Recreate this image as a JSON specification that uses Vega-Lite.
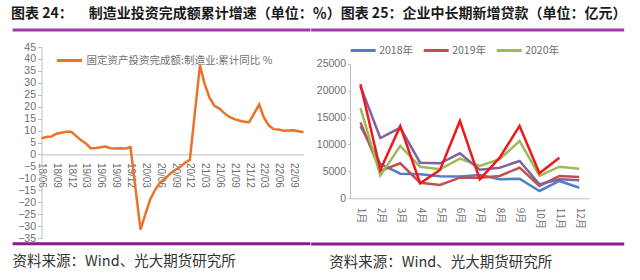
{
  "$schema": "https://vega.github.io/schema/vega-lite/v6.json",
  "background": "white",
  "padding": {"left": 10.5, "top": 6, "right": 4, "bottom": 4},
  "spacing": -3,
  "columns": 2,
  "align": "none",
  "title": {
    "text": "图表 24：\u00a0\u00a0\u00a0\u00a0\u00a0制造业投资完成额累计增速（单位：％）图表 25：企业中长期新增贷款（单位：亿元）",
    "anchor": "start",
    "fontSize": 14,
    "fontWeight": "bold",
    "color": "#1a1a1a",
    "offset": 7.5
  },
  "resolve": {
    "scale": {"color": "independent", "x": "independent", "y": "independent"},
    "legend": {"color": "independent"}
  },
  "concat": [
    {
      "width": 262,
      "height": 191,
      "title": {
        "text": "资料来源：Wind、光大期货研究所",
        "orient": "bottom",
        "anchor": "start",
        "frame": "bounds",
        "fontSize": 14.5,
        "fontWeight": "normal",
        "color": "#333333",
        "offset": 10,
        "dx": 1.5
      },
      "layer": [
        {
          "data": {
            "values": [
              {"date": "2018/06/01", "固定资产投资完成额:制造业:累计同比 %": 6.8},
              {"date": "2018/07/01", "固定资产投资完成额:制造业:累计同比 %": 7.3},
              {"date": "2018/08/01", "固定资产投资完成额:制造业:累计同比 %": 7.5},
              {"date": "2018/09/01", "固定资产投资完成额:制造业:累计同比 %": 8.7},
              {"date": "2018/10/01", "固定资产投资完成额:制造业:累计同比 %": 9.1},
              {"date": "2018/11/01", "固定资产投资完成额:制造业:累计同比 %": 9.5},
              {"date": "2018/12/01", "固定资产投资完成额:制造业:累计同比 %": 9.5},
              {"date": "2019/02/01", "固定资产投资完成额:制造业:累计同比 %": 5.9},
              {"date": "2019/03/01", "固定资产投资完成额:制造业:累计同比 %": 4.6},
              {"date": "2019/04/01", "固定资产投资完成额:制造业:累计同比 %": 2.5},
              {"date": "2019/05/01", "固定资产投资完成额:制造业:累计同比 %": 2.7},
              {"date": "2019/06/01", "固定资产投资完成额:制造业:累计同比 %": 3.0},
              {"date": "2019/07/01", "固定资产投资完成额:制造业:累计同比 %": 3.3},
              {"date": "2019/08/01", "固定资产投资完成额:制造业:累计同比 %": 2.6},
              {"date": "2019/09/01", "固定资产投资完成额:制造业:累计同比 %": 2.5},
              {"date": "2019/10/01", "固定资产投资完成额:制造业:累计同比 %": 2.6},
              {"date": "2019/11/01", "固定资产投资完成额:制造业:累计同比 %": 2.5},
              {"date": "2019/12/01", "固定资产投资完成额:制造业:累计同比 %": 3.1},
              {"date": "2020/02/01", "固定资产投资完成额:制造业:累计同比 %": -31.5},
              {"date": "2020/03/01", "固定资产投资完成额:制造业:累计同比 %": -25.2},
              {"date": "2020/04/01", "固定资产投资完成额:制造业:累计同比 %": -18.8},
              {"date": "2020/05/01", "固定资产投资完成额:制造业:累计同比 %": -14.8},
              {"date": "2020/06/01", "固定资产投资完成额:制造业:累计同比 %": -11.7},
              {"date": "2020/07/01", "固定资产投资完成额:制造业:累计同比 %": -10.2},
              {"date": "2020/08/01", "固定资产投资完成额:制造业:累计同比 %": -8.1},
              {"date": "2020/09/01", "固定资产投资完成额:制造业:累计同比 %": -6.5},
              {"date": "2020/10/01", "固定资产投资完成额:制造业:累计同比 %": -5.3},
              {"date": "2020/11/01", "固定资产投资完成额:制造业:累计同比 %": -3.5},
              {"date": "2020/12/01", "固定资产投资完成额:制造业:累计同比 %": -2.2},
              {"date": "2021/02/01", "固定资产投资完成额:制造业:累计同比 %": 37.3},
              {"date": "2021/03/01", "固定资产投资完成额:制造业:累计同比 %": 29.8},
              {"date": "2021/04/01", "固定资产投资完成额:制造业:累计同比 %": 23.8},
              {"date": "2021/05/01", "固定资产投资完成额:制造业:累计同比 %": 20.4},
              {"date": "2021/06/01", "固定资产投资完成额:制造业:累计同比 %": 19.2},
              {"date": "2021/07/01", "固定资产投资完成额:制造业:累计同比 %": 17.3},
              {"date": "2021/08/01", "固定资产投资完成额:制造业:累计同比 %": 15.7},
              {"date": "2021/09/01", "固定资产投资完成额:制造业:累计同比 %": 14.8},
              {"date": "2021/10/01", "固定资产投资完成额:制造业:累计同比 %": 14.2},
              {"date": "2021/11/01", "固定资产投资完成额:制造业:累计同比 %": 13.7},
              {"date": "2021/12/01", "固定资产投资完成额:制造业:累计同比 %": 13.5},
              {"date": "2022/02/01", "固定资产投资完成额:制造业:累计同比 %": 20.9},
              {"date": "2022/03/01", "固定资产投资完成额:制造业:累计同比 %": 15.6},
              {"date": "2022/04/01", "固定资产投资完成额:制造业:累计同比 %": 12.2},
              {"date": "2022/05/01", "固定资产投资完成额:制造业:累计同比 %": 10.6},
              {"date": "2022/06/01", "固定资产投资完成额:制造业:累计同比 %": 10.4},
              {"date": "2022/07/01", "固定资产投资完成额:制造业:累计同比 %": 9.9},
              {"date": "2022/08/01", "固定资产投资完成额:制造业:累计同比 %": 10.0},
              {"date": "2022/09/01", "固定资产投资完成额:制造业:累计同比 %": 10.1},
              {"date": "2022/10/01", "固定资产投资完成额:制造业:累计同比 %": 9.7},
              {"date": "2022/11/01", "固定资产投资完成额:制造业:累计同比 %": 9.3}
            ]
          },
          "transform": [
            {"fold": ["固定资产投资完成额:制造业:累计同比 %"], "as": ["指标", "值"]}
          ],
          "mark": {"type": "line", "strokeWidth": 2.5},
          "encoding": {
            "x": {
              "field": "date",
              "type": "temporal",
              "scale": {"domain": [{"year": 2018, "month": 6, "date": 1}, {"year": 2022, "month": 11, "date": 1}], "nice": false},
              "axis": {
                "title": null,
                "values": [
                  {"year": 2018, "month": 6, "date": 1}, {"year": 2018, "month": 9, "date": 1}, {"year": 2018, "month": 12, "date": 1},
                  {"year": 2019, "month": 3, "date": 1}, {"year": 2019, "month": 6, "date": 1}, {"year": 2019, "month": 9, "date": 1}, {"year": 2019, "month": 12, "date": 1},
                  {"year": 2020, "month": 3, "date": 1}, {"year": 2020, "month": 6, "date": 1}, {"year": 2020, "month": 9, "date": 1}, {"year": 2020, "month": 12, "date": 1},
                  {"year": 2021, "month": 3, "date": 1}, {"year": 2021, "month": 6, "date": 1}, {"year": 2021, "month": 9, "date": 1}, {"year": 2021, "month": 12, "date": 1},
                  {"year": 2022, "month": 3, "date": 1}, {"year": 2022, "month": 6, "date": 1}, {"year": 2022, "month": 9, "date": 1}
                ],
                "tickCount": 100,
                "format": "%y/%m",
                "labelAngle": 90,
                "labelOverlap": false,
                "labelFlush": false,
                "offset": -83.6,
                "ticks": false,
                "labelPadding": 8,
                "domainColor": "#BFBFBF",
                "labelColor": "#6E6E6E",
                "labelFont": "Liberation Sans",
                "labelFontSize": 10,
                "grid": false
              }
            },
            "y": {
              "field": "值",
              "type": "quantitative",
              "scale": {"domain": [-35, 45], "nice": false, "zero": false},
              "axis": {
                "title": null,
                "values": [-35, -30, -25, -20, -15, -10, -5, 0, 5, 10, 15, 20, 25, 30, 35, 40, 45],
                "tickCount": 100,
                "format": "d",
                "labelOverlap": false,
                "labelFlush": false,
                "grid": false,
                "domainColor": "#BFBFBF",
                "tickColor": "#BFBFBF",
                "tickSize": 4,
                "labelPadding": 2,
                "labelColor": "#6E6E6E",
                "labelFont": "Liberation Sans",
                "labelFontSize": 10.5
              }
            },
            "color": {
              "field": "指标",
              "type": "nominal",
              "scale": {"range": ["#E9732A"]},
              "legend": {
                "title": null,
                "orient": "none",
                "legendX": 14,
                "legendY": -0.5,
                "padding": 0,
                "symbolType": "stroke",
                "symbolSize": 625,
                "symbolStrokeWidth": 3,
                "labelFontSize": 10.5,
                "labelColor": "#6E6E6E",
                "labelOffset": 3,
                "labelLimit": 400
              }
            }
          }
        },
        {
          "data": {"values": [{}]},
          "mark": {"type": "rule", "color": "#A03AA8", "strokeWidth": 3},
          "encoding": {
            "x": {"datum": {"year": 2017, "month": 12, "date": 5}, "type": "temporal", "scale": {"domain": [{"year": 2018, "month": 6, "date": 1}, {"year": 2022, "month": 11, "date": 1}], "nice": false}},
            "x2": {"datum": {"year": 2022, "month": 12, "date": 14}},
            "y": {"datum": 52.1, "type": "quantitative", "scale": {"domain": [-35, 45], "nice": false, "zero": false}}
          }
        },
        {
          "data": {"values": [{}]},
          "mark": {"type": "rule", "color": "#8E1A92", "strokeWidth": 3},
          "encoding": {
            "x": {"datum": {"year": 2017, "month": 12, "date": 5}, "type": "temporal", "scale": {"domain": [{"year": 2018, "month": 6, "date": 1}, {"year": 2022, "month": 11, "date": 1}], "nice": false}},
            "x2": {"datum": {"year": 2022, "month": 12, "date": 14}},
            "y": {"datum": -37.4, "type": "quantitative", "scale": {"domain": [-35, 45], "nice": false, "zero": false}}
          }
        }
      ]
    },
    {
      "width": 238.7,
      "height": 151.3,
      "title": {
        "text": "资料来源：Wind、光大期货研究所",
        "orient": "bottom",
        "anchor": "start",
        "frame": "group",
        "fontSize": 14.5,
        "fontWeight": "normal",
        "color": "#333333",
        "offset": 10,
        "dx": -21.3
      },
      "layer": [
        {
          "data": {"values": [{}]},
          "mark": {"type": "rule", "color": "#BFBFBF", "strokeWidth": 1},
          "encoding": {
            "x": {"datum": 0.5, "type": "quantitative", "scale": {"domain": [0.5, 12.5], "nice": false, "zero": false}},
            "y": {"datum": 0, "type": "quantitative", "scale": {"domain": [0, 28104], "nice": false}},
            "y2": {"datum": 25000}
          }
        },
        {
          "data": {
            "values": [
              {"月": 1, "2018年": 13400, "2019年": 14100, "2020年": 16800, "2021年": 20800, "2022年": 21200},
              {"月": 2, "2018年": 6400, "2019年": 5070, "2020年": 4200, "2021年": 11200, "2022年": 5260},
              {"月": 3, "2018年": 4570, "2019年": 6500, "2020年": 9720, "2021年": 13100, "2022年": 13400},
              {"月": 4, "2018年": 4460, "2019年": 2900, "2020年": 5870, "2021年": 6620, "2022年": 2790},
              {"月": 5, "2018年": 4090, "2019年": 2470, "2020年": 5390, "2021年": 6500, "2022年": 5260},
              {"月": 6, "2018年": 4030, "2019年": 3830, "2020年": 7360, "2021年": 8360, "2022年": 14370},
              {"月": 7, "2018年": 4330, "2019年": 3830, "2020年": 6000, "2021年": 5300, "2022年": 3530},
              {"月": 8, "2018年": 3530, "2019年": 4150, "2020年": 7250, "2021年": 5690, "2022年": 7550},
              {"月": 9, "2018年": 3650, "2019年": 5690, "2020年": 10650, "2021年": 6930, "2022年": 13440},
              {"月": 10, "2018年": 1360, "2019年": 2290, "2020年": 4150, "2021年": 2600, "2022年": 4650},
              {"月": 11, "2018年": 3220, "2019年": 4150, "2020年": 5870, "2021年": 3530, "2022年": 7550},
              {"月": 12, "2018年": 1970, "2019年": 3960, "2020年": 5500, "2021年": 3350}
            ]
          },
          "transform": [
            {"fold": ["2018年", "2019年", "2020年", "2021年", "2022年"], "as": ["年份", "贷款"]}
          ],
          "mark": {"type": "line", "strokeWidth": 2.5},
          "encoding": {
            "x": {
              "field": "月",
              "type": "quantitative",
              "scale": {"domain": [0.5, 12.5], "nice": false, "zero": false},
              "axis": {
                "title": null,
                "values": [1, 2, 3, 4, 5, 6, 7, 8, 9, 10, 11, 12],
                "tickCount": 100,
                "labelExpr": "datum.value + '月'",
                "labelAngle": 90,
                "labelOverlap": false,
                "labelFlush": false,
                "ticks": false,
                "labelPadding": 9,
                "domainColor": "#BFBFBF",
                "labelColor": "#6E6E6E",
                "labelFontSize": 10,
                "grid": false
              }
            },
            "y": {
              "field": "贷款",
              "type": "quantitative",
              "scale": {"domain": [0, 28104], "nice": false},
              "axis": {
                "title": null,
                "values": [0, 5000, 10000, 15000, 20000, 25000],
                "tickCount": 100,
                "format": "d",
                "domain": false,
                "labelOverlap": false,
                "labelFlush": false,
                "grid": false,
                "tickColor": "#BFBFBF",
                "tickSize": 3,
                "labelPadding": 2,
                "labelColor": "#6E6E6E",
                "labelFont": "Liberation Sans",
                "labelFontSize": 10.5
              }
            },
            "color": {
              "field": "年份",
              "type": "nominal",
              "scale": {
                "domain": ["2018年", "2019年", "2020年", "2021年", "2022年"],
                "range": ["#4F7FC4", "#C0504D", "#9BBB59", "#8064A2", "#F01818"]
              },
              "legend": {
                "title": null,
                "values": ["2018年", "2019年", "2020年"],
                "orient": "none",
                "direction": "horizontal",
                "legendX": -1.3,
                "legendY": -10.5,
                "padding": 0,
                "columnPadding": 4,
                "symbolType": "stroke",
                "symbolSize": 625,
                "symbolStrokeWidth": 3,
                "labelFontSize": 10.5,
                "labelColor": "#6E6E6E",
                "labelOffset": 2
              }
            }
          }
        },
        {
          "data": {"values": [{}]},
          "mark": {"type": "rule", "color": "#A03AA8", "strokeWidth": 3},
          "encoding": {
            "x": {"datum": -1.476, "type": "quantitative", "scale": {"domain": [0.5, 12.5], "nice": false, "zero": false}},
            "x2": {"datum": 14.26},
            "y": {"datum": 31264, "type": "quantitative", "scale": {"domain": [0, 28104], "nice": false}}
          }
        },
        {
          "data": {"values": [{}]},
          "mark": {"type": "rule", "color": "#8E1A92", "strokeWidth": 3},
          "encoding": {
            "x": {"datum": -1.476, "type": "quantitative", "scale": {"domain": [0.5, 12.5], "nice": false, "zero": false}},
            "x2": {"datum": 14.26},
            "y": {"datum": -8496, "type": "quantitative", "scale": {"domain": [0, 28104], "nice": false}}
          }
        }
      ]
    }
  ],
  "config": {
    "font": "Noto Sans CJK SC",
    "view": {"stroke": null},
    "axis": {"labelFont": "Noto Sans CJK SC"},
    "legend": {"labelFont": "Noto Sans CJK SC"}
  }
}
